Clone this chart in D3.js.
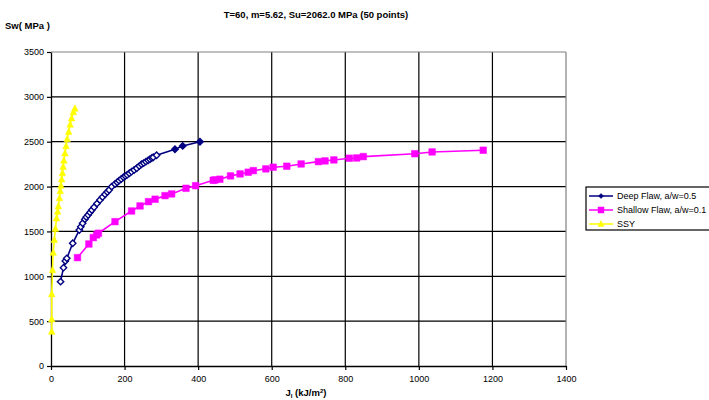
<!DOCTYPE html>
<html>
<head>
<meta charset="utf-8">
<script src="https://cdn.jsdelivr.net/npm/d3@7"></script>
<style>
  body { margin: 0; background: #fff; }
  text { font-family: Arial, "Liberation Sans", sans-serif; }
</style>
</head>
<body>
<svg id="chart" width="709" height="400"></svg>
<script>
// Axis ticks
const xTicks = [0, 200, 400, 600, 800, 1000, 1200, 1400];
const yTicks = [0, 500, 1000, 1500, 2000, 2500, 3000, 3500];

// Deep flaw, a/w = 0.5
const deepJ = [26, 34, 39, 43, 59, 77, 81, 86, 92, 96, 101, 106, 111, 117, 125, 133, 140, 147, 153, 158,
               165, 174, 180, 185, 191, 197, 202, 207, 213, 219, 226, 233, 240, 246, 252, 258, 264, 269,
               274, 278, 287, 337, 358, 405];
const deepS = [940, 1096, 1171, 1200, 1368, 1516, 1553, 1591, 1635, 1660, 1684, 1712, 1739, 1769, 1810, 1851, 1883, 1914, 1940, 1962,
               1999, 2029, 2048, 2066, 2085, 2104, 2117, 2130, 2148, 2166, 2185, 2204, 2228, 2249, 2262, 2278, 2292, 2305,
               2318, 2327, 2349, 2416, 2453, 2500];

// Shallow flaw, a/w = 0.1
const shallowJ = [72, 103, 115, 124, 129, 174, 219, 242, 265, 283, 310, 328, 367, 393, 441, 446, 459, 488, 514,
                  536, 550, 584, 604, 641, 680, 727, 745, 769, 811, 831, 849, 989, 1036, 1175];
const shallowS = [1208, 1360, 1431, 1461, 1480, 1609, 1728, 1784, 1832, 1859, 1899, 1918, 1981, 2010, 2070, 2074, 2082, 2119, 2141,
                  2160, 2178, 2197, 2216, 2227, 2252, 2278, 2286, 2297, 2316, 2319, 2334, 2366, 2386, 2405];

// Small-scale yielding
const ssyJ = [2, 2, 2, 4, 6, 9, 12, 15, 18, 20, 23, 25, 27, 29, 31, 33, 35, 38, 41, 44, 48, 52, 56, 61, 65];
const ssyS = [383, 521, 800, 1070, 1263, 1405, 1530, 1647, 1720, 1780, 1870, 1950, 2010, 2080, 2150, 2220, 2290, 2370, 2450,
              2530, 2610, 2690, 2760, 2830, 2870];

const seriesNames = ["Deep Flaw, a/w=0.5", "Shallow Flaw, a/w=0.1", "SSY"];

const series = [
  { name: seriesNames[0], J: deepJ, S: deepS, color: "#000080", marker: "diamond" },
  { name: seriesNames[1], J: shallowJ, S: shallowS, color: "#FF00FF", marker: "square" },
  { name: seriesNames[2], J: ssyJ, S: ssyS, color: "#FFFF00", marker: "triangle" }
];

const svg = d3.select("#chart");
const x = d3.scaleLinear().domain([0, 1400]).range([51, 566]);
const y = d3.scaleLinear().domain([0, 3500]).range([366, 52]);

// Gridlines
const grid = svg.append("g");
grid.selectAll("line.h").data(yTicks.filter(v => v > 0 && v < 3500)).join("line")
  .attr("x1", x(0)).attr("x2", x(1400))
  .attr("y1", d => y(d)).attr("y2", d => y(d))
  .attr("stroke", "#000").attr("stroke-width", 1.2);
grid.selectAll("line.v").data(xTicks.filter(v => v > 0 && v < 1400)).join("line")
  .attr("y1", y(0)).attr("y2", y(3500))
  .attr("x1", d => x(d)).attr("x2", d => x(d))
  .attr("stroke", "#000").attr("stroke-width", 1.2);

// Plot-area frame (top and right)
svg.append("line").attr("x1", x(0)).attr("x2", x(1400)).attr("y1", y(3500)).attr("y2", y(3500))
  .attr("stroke", "#808080").attr("stroke-width", 1.2);
svg.append("line").attr("x1", x(1400)).attr("x2", x(1400)).attr("y1", y(0)).attr("y2", y(3500))
  .attr("stroke", "#808080").attr("stroke-width", 1.2);

// Axes
const xAxis = svg.append("g").attr("transform", `translate(0,${y(0)})`)
  .call(d3.axisBottom(x).tickValues(xTicks).tickFormat(d3.format("d")).tickSize(4).tickPadding(6).tickSizeOuter(0));
const yAxis = svg.append("g").attr("transform", `translate(${x(0)},0)`)
  .call(d3.axisLeft(y).tickValues(yTicks).tickFormat(d3.format("d")).tickSize(4).tickPadding(3).tickSizeOuter(0));
[xAxis, yAxis].forEach(a => {
  a.select(".domain").attr("stroke", "#000").attr("stroke-width", 1.3);
  a.selectAll(".tick line").attr("stroke", "#000").attr("stroke-width", 1.2);
  a.selectAll(".tick text").attr("fill", "#000").style("font-size", "9px")
    .style("font-family", "Arial, 'Liberation Sans', sans-serif");
});

// Marker shapes
function markerPath(type, r) {
  if (type === "diamond") return `M0,${-r}L${r},0L0,${r}L${-r},0Z`;
  if (type === "square") return `M${-r},${-r}H${r}V${r}H${-r}Z`;
  return `M0,${-r * 1.15}L${r},${r * 0.8}L${-r},${r * 0.8}Z`;
}

const line = d3.line().x(d => x(d[0])).y(d => y(d[1]));

series.forEach(s => {
  const pts = s.J.map((j, i) => [j, s.S[i]]);
  const g = svg.append("g");
  g.append("path").attr("d", line(pts)).attr("fill", "none")
    .attr("stroke", s.color).attr("stroke-width", 1.6);
  g.selectAll("path.m").data(pts).join("path")
    .attr("transform", d => `translate(${x(d[0])},${y(d[1])})`)
    .attr("d", markerPath(s.marker, s.marker === "diamond" ? 3.2 : 3.3))
    .attr("fill", d => s.marker === "diamond" ? (d[0] > 300 ? s.color : "#fff") : s.color)
    .attr("stroke", s.color).attr("stroke-width", s.marker === "diamond" ? 1.4 : 0.5);
});

// Titles
svg.append("text").attr("x", 316).attr("y", 18).attr("text-anchor", "middle")
  .style("font-size", "9.5px").style("font-weight", "bold")
  .text("T=60, m=5.62, Su=2062.0 MPa (50 points)");
svg.append("text").attr("x", 5).attr("y", 29)
  .style("font-size", "9.5px").style("font-weight", "bold").text("Sw( MPa )");
const xl = svg.append("text").attr("x", 306).attr("y", 396).attr("text-anchor", "middle")
  .style("font-size", "9.5px").style("font-weight", "bold");
xl.append("tspan").text("J");
xl.append("tspan").attr("dy", 2).style("font-size", "6px").text("I");
xl.append("tspan").attr("dy", -2).text("  (kJ/m");
xl.append("tspan").attr("dy", -3).style("font-size", "6px").text("2");
xl.append("tspan").attr("dy", 3).text(")");

// Legend
const lg = svg.append("g");
lg.append("rect").attr("x", 586).attr("y", 187).attr("width", 140).attr("height", 43)
  .attr("fill", "#fff").attr("stroke", "#000").attr("stroke-width", 1.2);
series.forEach((s, i) => {
  const cy = 196 + i * 14;
  lg.append("line").attr("x1", 589).attr("x2", 613).attr("y1", cy).attr("y2", cy)
    .attr("stroke", s.color).attr("stroke-width", 1.5);
  lg.append("path").attr("transform", `translate(601,${cy})`)
    .attr("d", markerPath(s.marker, s.marker === "diamond" ? 2.5 : 3))
    .attr("fill", s.color).attr("stroke", s.color).attr("stroke-width", 0.5);
  lg.append("text").attr("x", 617).attr("y", cy + 3.3).style("font-size", "9px").text(s.name);
});
</script>
</body>
</html>
